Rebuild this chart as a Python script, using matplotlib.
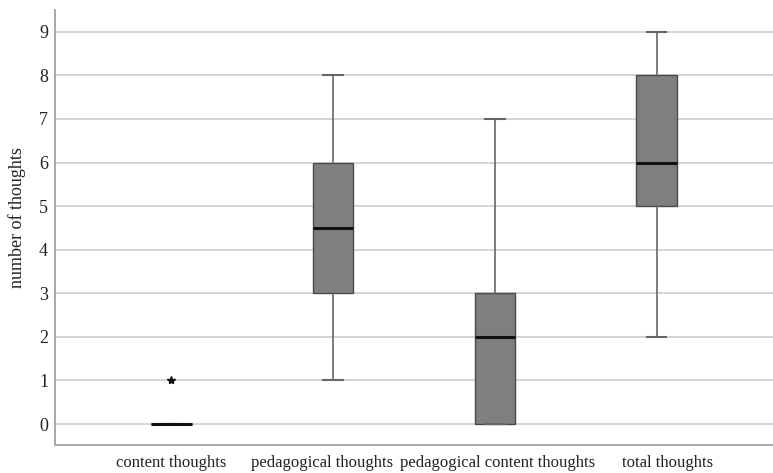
import matplotlib
matplotlib.use("Agg")
import matplotlib.pyplot as plt

categories = ["content thoughts", "pedagogical thoughts", "pedagogical content thoughts", "total thoughts"]
medians = [0, 4.5, 2, 6]
q1 = [0, 3, 0, 5]
q3 = [0, 6, 3, 8]
whisker_low = [0, 1, 0, 2]
whisker_high = [0, 8, 7, 9]
outliers = [[1], [], [], []]
yticks = list(range(0, 10))

plt.rcParams['font.family'] = ['Liberation Serif', 'DejaVu Serif']

fig = plt.figure(figsize=(7.73, 4.73), dpi=100)
ax = fig.add_axes([0.0712, 0.0592, 0.9288, 0.9197])

stats = []
for i, c in enumerate(categories):
    stats.append(dict(label=c, med=medians[i], q1=q1[i], q3=q3[i],
                      whislo=whisker_low[i], whishi=whisker_high[i], fliers=outliers[i]))

positions = list(range(len(categories)))
ax.bxp(stats, positions=positions, widths=0.25, patch_artist=True,
       showcaps=True,
       boxprops=dict(facecolor="#7f7f7f", edgecolor="#4a4a4a", linewidth=1.0),
       medianprops=dict(color="#111111", linewidth=2.2),
       whiskerprops=dict(color="#666666", linewidth=1.2),
       capprops=dict(color="#666666", linewidth=1.5),
       capwidths=0.12,
       flierprops=dict(marker="*", markersize=6, markerfacecolor="#111111",
                       markeredgecolor="#111111"))

ax.set_xlim(-0.72, 3.72)
ax.set_ylim(-0.48, 9.5)
ax.set_yticks(yticks)
ax.set_yticklabels([str(t) for t in yticks], fontsize=13)
# category labels are spread slightly wider than the boxes in the reference
label_offsets = [0.0, -0.066, 0.016, 0.067]
ax.set_xticks([p + o for p, o in zip(positions, label_offsets)])
ax.set_xticklabels(categories, fontsize=12)
ax.tick_params(axis="both", length=0, colors="#222222")
ax.tick_params(axis="y", pad=5)
ax.tick_params(axis="x", pad=7)
ax.yaxis.grid(True, color="#d4d4d4", linewidth=1.4)
ax.set_axisbelow(True)
for s in ["top", "right"]:
    ax.spines[s].set_visible(False)
for s in ["left", "bottom"]:
    ax.spines[s].set_color("#a8a8a8")
    ax.spines[s].set_linewidth(1.4)
ax.set_ylabel("number of thoughts", fontsize=13, color="#222222")
ax.yaxis.set_label_coords(-0.040, 0.522)

fig.savefig("out.png", dpi=100)
